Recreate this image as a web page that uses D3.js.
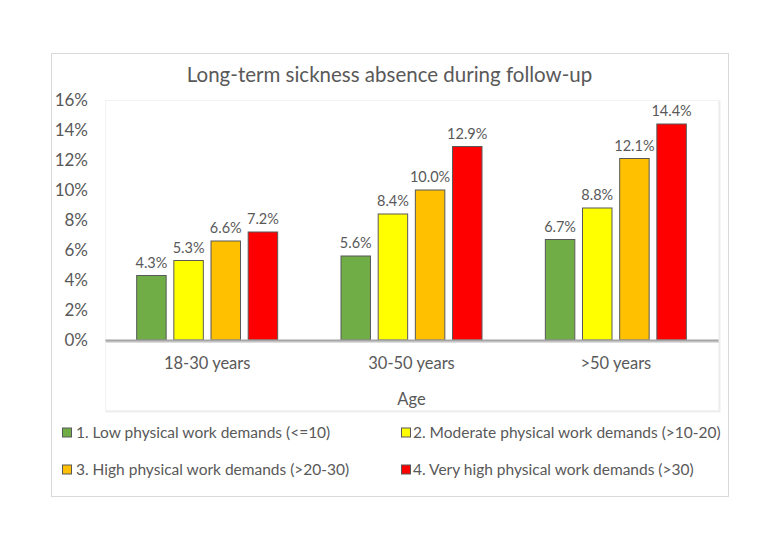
<!DOCTYPE html>
<html>
<head>
<meta charset="utf-8">
<script src="https://cdn.jsdelivr.net/npm/d3@7"></script>
<style>
  html, body { margin: 0; padding: 0; background: #fff; }
  svg { display: block; }
  text { font-family: Lato, "Open Sans", sans-serif; fill: #595959; }
</style>
</head>
<body>
<svg id="chart" width="779" height="550"></svg>
<script>
// ---- data ----
const title = "Long-term sickness absence during follow-up";
const xAxisTitle = "Age";
const categories = ["18-30 years", "30-50 years", ">50 years"];
const seriesNames = [
  "1. Low physical work demands (<=10)",
  "2. Moderate physical work demands (>10-20)",
  "3. High physical work demands (>20-30)",
  "4. Very high physical work demands (>30)"
];
const lowValues      = [0.043, 0.056, 0.067];
const moderateValues = [0.053, 0.084, 0.088];
const highValues     = [0.066, 0.100, 0.121];
const veryHighValues = [0.072, 0.129, 0.144];
const yTicks = [0, 0.02, 0.04, 0.06, 0.08, 0.10, 0.12, 0.14, 0.16];
const seriesColors = ["#70AD47", "#FFFF00", "#FFC000", "#FF0000"];

const seriesValues = [lowValues, moderateValues, highValues, veryHighValues];
const rows = [];
seriesNames.forEach((s, si) => {
  categories.forEach((c, ci) => rows.push({ series: s, si, category: c, value: seriesValues[si][ci] }));
});

const svg = d3.select("#chart");
const fmt = d3.format(".1%");

// outer chart border
svg.append("rect").attr("x", 51.5).attr("y", 53.5).attr("width", 677).attr("height", 443)
  .attr("fill", "#fff").attr("stroke", "#D9D9D9").attr("stroke-width", 1);

// plot area frame (faint, with soft shadow)
const plot = { left: 105, right: 718, top: 100, bottom: 340, frameBottom: 410 };
svg.append("rect").attr("x", plot.left + 1.5).attr("y", plot.top + 1.5)
  .attr("width", plot.right - plot.left).attr("height", plot.frameBottom - plot.top)
  .attr("fill", "none").attr("stroke", "#EDEDED").attr("stroke-width", 2);
svg.append("rect").attr("x", plot.left + 0.5).attr("y", plot.top + 0.5)
  .attr("width", plot.right - plot.left).attr("height", plot.frameBottom - plot.top)
  .attr("fill", "#fff").attr("stroke", "#F2F2F2").attr("stroke-width", 1);

// scales
const x = d3.scaleBand().domain(categories).range([plot.left, plot.right]).padding(0);
const groupWidth = x.bandwidth() * 0.69;
const xs = d3.scaleBand().domain(seriesNames)
  .range([(x.bandwidth() - groupWidth) / 2, (x.bandwidth() + groupWidth) / 2])
  .paddingInner(0.207).paddingOuter(0);
const y = d3.scaleLinear().domain([0, 0.16]).range([plot.bottom, plot.top]);

// y axis (labels only)
const yAxis = d3.axisLeft(y).tickValues(yTicks).tickFormat(d3.format(".0%")).tickSize(0).tickPadding(0);
const yg = svg.append("g").attr("transform", "translate(88,0)").call(yAxis);
yg.select(".domain").remove();
yg.selectAll("text").style("font-size", "17px").style("fill", "#595959")
  .style("font-family", "Lato, sans-serif");

// bars
svg.append("g").selectAll("rect").data(rows).join("rect")
  .attr("x", d => x(d.category) + xs(d.series))
  .attr("y", d => y(d.value))
  .attr("width", xs.bandwidth())
  .attr("height", d => y(0) - y(d.value))
  .attr("fill", d => seriesColors[d.si])
  .attr("stroke", "#595959").attr("stroke-width", 1);

// data labels
svg.append("g").selectAll("text").data(rows).join("text")
  .attr("x", d => x(d.category) + xs(d.series) + xs.bandwidth() / 2)
  .attr("y", d => y(d.value) - 8)
  .attr("text-anchor", "middle")
  .style("font-size", "14.5px")
  .text(d => fmt(d.value));

// x axis line with shadow
svg.append("line").attr("x1", plot.left + 1).attr("x2", plot.right + 1)
  .attr("y1", y(0) + 2).attr("y2", y(0) + 2).attr("stroke", "#DDDDDD").attr("stroke-width", 2);
const xAxis = d3.axisBottom(x).tickSize(0).tickPadding(0);
const xg = svg.append("g").attr("transform", `translate(0,${y(0)})`).call(xAxis);
xg.select(".domain").attr("stroke", "#A6A6A6").attr("stroke-width", 2);
xg.selectAll("text").attr("dy", null).attr("y", 29)
  .style("font-size", "16.5px").style("fill", "#595959").style("font-family", "Lato, sans-serif");

// axis title
svg.append("text").attr("x", x.range()[0] + (x.range()[1] - x.range()[0]) / 2).attr("y", 405)
  .attr("text-anchor", "middle").style("font-size", "16.5px").text(xAxisTitle);

// chart title
svg.append("text").attr("x", 389.5).attr("y", 82).attr("text-anchor", "middle")
  .style("font-size", "20.5px").text(title);

// legend
const legendPos = [
  { sx: 62, tx: 76, cy: 432.5 },
  { sx: 401, tx: 413, cy: 432.5 },
  { sx: 62, tx: 76, cy: 469.5 },
  { sx: 401, tx: 413, cy: 469.5 }
];
const lg = svg.append("g").selectAll("g").data(seriesNames).join("g");
lg.append("rect")
  .attr("x", (d, i) => legendPos[i].sx + 0.5).attr("y", (d, i) => legendPos[i].cy - 4.5)
  .attr("width", 9).attr("height", 9)
  .attr("fill", (d, i) => seriesColors[i]).attr("stroke", "#595959").attr("stroke-width", 1);
lg.append("text")
  .attr("x", (d, i) => legendPos[i].tx).attr("y", (d, i) => legendPos[i].cy)
  .attr("dy", "0.35em").style("font-size", "15.5px").text(d => d);
</script>
</body>
</html>
